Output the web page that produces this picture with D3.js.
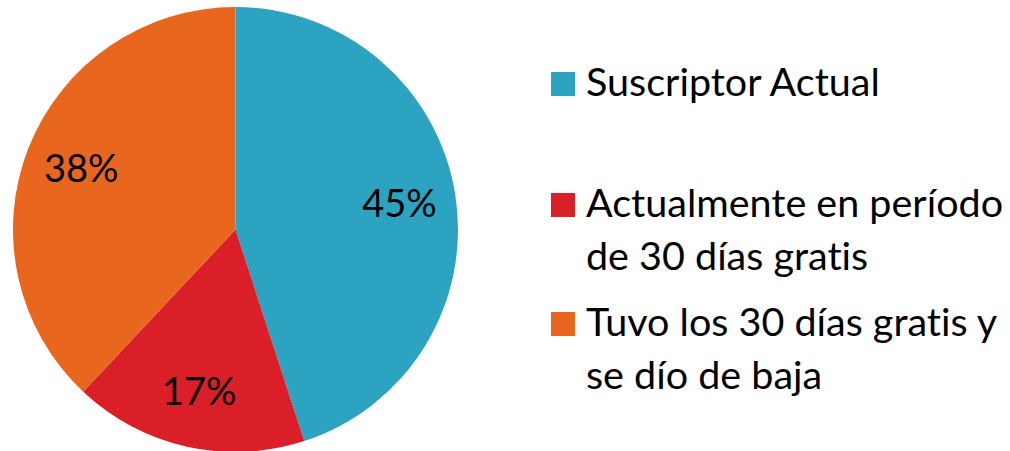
<!DOCTYPE html>
<html lang="es">
<head>
<meta charset="utf-8">
<title>Suscriptores</title>
<script src="https://cdn.jsdelivr.net/npm/d3@7"></script>
<style>
  body { margin: 0; background: #fff; }
  text { font-family: Lato, "Noto Sans", sans-serif; fill: #000; font-variant-ligatures: none; }
</style>
</head>
<body>
<script>
// data
var categories = ["Suscriptor Actual", "Actualmente en período de 30 días gratis", "Tuvo los 30 días gratis y se dío de baja"];
var legendLines = [["Suscriptor Actual"], ["Actualmente en período", "de 30 días gratis"], ["Tuvo los 30 días gratis y", "se dío de baja"]];
var values = [45, 17, 38];
var colors = ["#2ca3c1", "#da1f29", "#e9661f"];

var w = 1010, h = 451;
var cx = 235.5, cy = 229.5, radius = 222.5;

var svg = d3.select("body").append("svg")
    .attr("width", w)
    .attr("height", h);

var color = d3.scaleOrdinal().domain(categories).range(colors);

var pie = d3.pie().sort(null).value(function(d) { return d.value; });
var arcs = pie(categories.map(function(c, i) { return { name: c, value: values[i] }; }));

var arc = d3.arc().innerRadius(0).outerRadius(radius);
var labelArc = d3.arc().innerRadius(166).outerRadius(166);

var g = svg.append("g").attr("transform", "translate(" + cx + "," + cy + ")");

g.selectAll("path")
  .data(arcs)
  .enter().append("path")
    .attr("d", arc)
    .attr("fill", function(d) { return color(d.data.name); });

g.selectAll("text.pct")
  .data(arcs)
  .enter().append("text")
    .attr("class", "pct")
    .attr("transform", function(d) { return "translate(" + labelArc.centroid(d) + ")"; })
    .attr("text-anchor", "middle")
    .attr("dy", "0.36em")
    .style("font-size", "38px")
    .text(function(d) { return d.data.value + "%"; });

// legend
var legendX = 551, sq = 24;
var legendTop = [72, 193, 312];   // top of each swatch
var lineH = 53;

var leg = svg.selectAll("g.leg")
  .data(categories)
  .enter().append("g")
    .attr("class", "leg")
    .attr("transform", function(d, i) { return "translate(" + legendX + "," + legendTop[i] + ")"; });

leg.append("rect")
  .attr("width", sq)
  .attr("height", sq)
  .attr("fill", function(d) { return color(d); });

leg.append("text")
  .attr("x", 35)
  .attr("y", 24)
  .style("font-size", "39.5px")
  .selectAll("tspan")
  .data(function(d, i) { return legendLines[i]; })
  .enter().append("tspan")
    .attr("x", 35)
    .attr("dy", function(d, i) { return i === 0 ? 0 : lineH; })
    .text(function(d) { return d; });
</script>
</body>
</html>
